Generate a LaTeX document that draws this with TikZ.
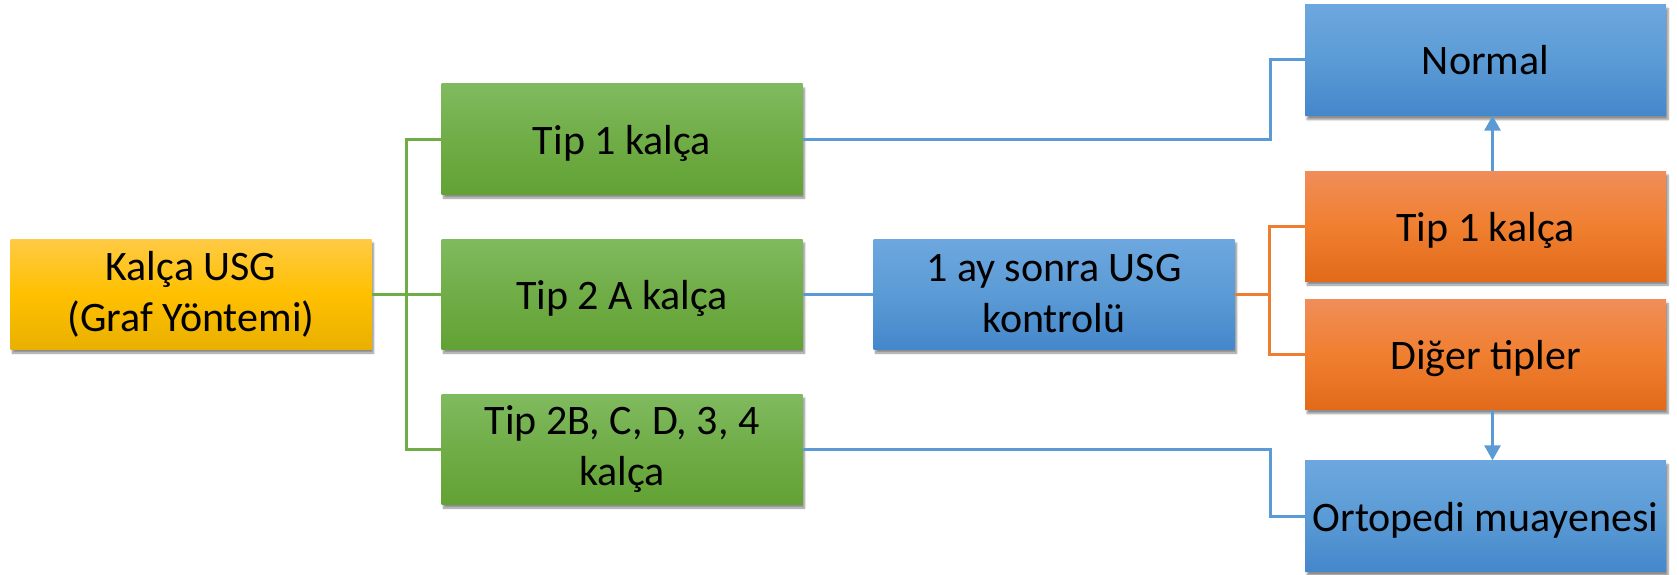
\documentclass[tikz,border=0pt]{standalone}
\usepackage{fontspec}
\setmainfont{Carlito}
\usetikzlibrary{shadows.blur,arrows.meta}
\definecolor{gtop}{HTML}{80BA5F}
\definecolor{gmid}{HTML}{70AD47}
\definecolor{gbot}{HTML}{62A234}
\definecolor{ytop}{HTML}{FFCA45}
\definecolor{ymid}{HTML}{FFC000}
\definecolor{ybot}{HTML}{E9B000}
\definecolor{btop}{HTML}{6DA7DF}
\definecolor{bmid}{HTML}{5B9BD5}
\definecolor{bbot}{HTML}{4487CB}
\definecolor{otop}{HTML}{F08D59}
\definecolor{omid}{HTML}{F07F30}
\definecolor{obot}{HTML}{E26A1A}
\definecolor{lgreen}{HTML}{70AD47}
\definecolor{lblue}{HTML}{5B9BD5}
\definecolor{lorange}{HTML}{ED7D31}
\tikzset{
  box/.style={minimum width=361pt, minimum height=110pt, inner sep=0pt, align=center,
    font=\fontsize{42}{51}\selectfont,
    blur shadow={shadow xshift=2pt, shadow yshift=-4pt, shadow blur steps=6, shadow opacity=45}},
  oneline/.style={text height=36pt, text depth=6pt},
  gbox/.style={box, top color=gtop, bottom color=gbot, middle color=gmid},
  ybox/.style={box, top color=ytop, bottom color=ybot, middle color=ymid},
  bbox/.style={box, top color=btop, bottom color=bbot, middle color=bmid},
  obox/.style={box, top color=otop, bottom color=obot, middle color=omid},
  gl/.style={draw=lgreen, line width=3pt},
  bl/.style={draw=lblue, line width=3pt},
  ol/.style={draw=lorange, line width=3pt},
  arr/.style={bl, -{Triangle[width=16pt,length=15pt]}},
}
\begin{document}
\begin{tikzpicture}[x=1pt,y=-1pt]
\useasboundingbox (0,0) rectangle (1677,575);
\node[ybox] (kalca) at (191,294) {Kalça USG\\(Graf Yöntemi)};
\node[gbox, oneline] (g1) at (622,139) {Tip 1 kalça};
\node[gbox, oneline] (g2) at (622,294) {Tip 2 A kalça};
\node[gbox] (g3) at (622,449) {Tip 2B, C, D, 3, 4\\kalça};
\node[bbox] (ay) at (1054,294) {1 ay sonra USG\\kontrolü};
\node[bbox, oneline, minimum height=111pt] (normal) at (1485.5,60) {Normal};
\node[obox, oneline] (t1o) at (1485.5,226) {Tip 1 kalça};
\node[obox, oneline] (diger) at (1485.5,354.5) {Diğer tipler};
\node[bbox, oneline, minimum height=111pt] (orto) at (1485.5,516) {Ortopedi muayenesi};
\coordinate (jg) at (406,294);
\coordinate (j1) at (1270,139);
\coordinate (j3) at (1270,449);
\coordinate (jo) at (1269,294);
\draw[gl] (kalca.east) -- (g2.west);
\draw[gl] (g1.west) -| (jg) |- (g3.west);
\draw[bl] (g1.east) -- (j1) |- (normal.west);
\draw[bl] (g2.east) -- (ay.west);
\draw[bl] (g3.east) -- (j3) |- (orto.west);
\draw[ol] (ay.east) -- (jo);
\draw[ol] (t1o.west) -| (jo) |- (diger.west);
\draw[arr] ([xshift=7pt]t1o.north) -- ([xshift=7pt]normal.south);
\draw[arr] ([xshift=7pt]diger.south) -- ([xshift=7pt]orto.north);
\end{tikzpicture}
\end{document}
